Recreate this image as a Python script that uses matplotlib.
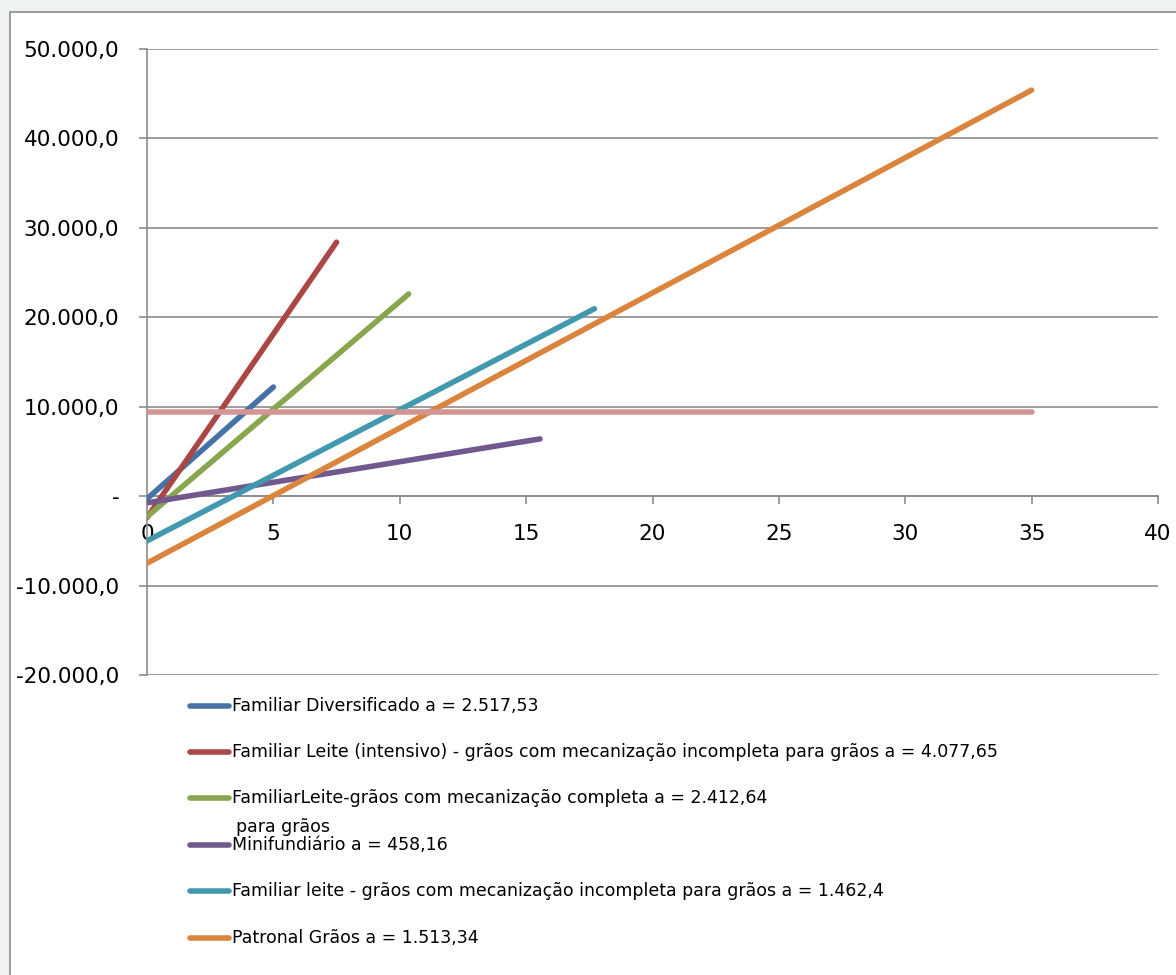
import matplotlib
matplotlib.use('Agg')
import matplotlib.pyplot as plt
from matplotlib.lines import Line2D
from matplotlib.patches import Rectangle
from matplotlib.ticker import FuncFormatter

# series: start/end of each straight line
labels = [
    'Familiar Diversificado a = 2.517,53',
    'Familiar Leite (intensivo) - grãos com mecanização incompleta para grãos a = 4.077,65',
    'FamiliarLeite-grãos com mecanização completa a = 2.412,64',
    'Minifundiário a = 458,16',
    'Familiar leite - grãos com mecanização incompleta para grãos a = 1.462,4',
    'Patronal Grãos a = 1.513,34',
]
x_start = [0, 0, 0, 0, 0, 0]
x_end = [5.0, 7.5, 10.35, 15.55, 17.7, 35.0]
y_start = [-300, -2400, -2300, -750, -5000, -7500]
y_end = [12200, 28400, 22600, 6400, 20950, 45400]
colors = ['#4572A7', '#AA4643', '#89A54E', '#71588F', '#4198AF', '#DB843D']

# horizontal reference line (not in legend)
ref_x = [0, 35]
ref_y = [9400, 9400]
ref_color = '#D39494'

y_ticks = [-20000, -10000, 0, 10000, 20000, 30000, 40000, 50000]
x_ticks = [0, 5, 10, 15, 20, 25, 30, 35, 40]


def br_fmt(v, pos=None):
    if v == 0:
        return '-'
    s = f'{abs(v):,.1f}'.replace(',', 'X').replace('.', ',').replace('X', '.')
    return ('-' if v < 0 else '') + s


W, H = 1176, 975
fig = plt.figure(figsize=(W / 100, H / 100), dpi=100)
fig.patch.set_facecolor('#EEF2F1')

# white chart area with gray border
fig.patches.append(Rectangle((10 / W, -0.01), 1.02, 1 - 12 / H + 0.01,
                             transform=fig.transFigure, facecolor='white',
                             edgecolor='#8C8C8C', linewidth=1.2, zorder=-10))

ax = fig.add_axes([147 / W, 1 - 675 / H, (1158 - 147) / W, (675 - 49) / H])
ax.set_facecolor('none')

for xs, xe, ys, ye, c in zip(x_start, x_end, y_start, y_end, colors):
    ax.plot([xs, xe], [ys, ye], color=c, lw=4, solid_capstyle='round', zorder=3)
ax.plot(ref_x, ref_y, color=ref_color, lw=4, solid_capstyle='round', zorder=4)

ax.set_xlim(0, 40)
ax.set_ylim(-20000, 50000)
ax.set_yticks(y_ticks)
ax.set_xticks(x_ticks)
ax.yaxis.set_major_formatter(FuncFormatter(br_fmt))
ax.grid(axis='y', color='#8C8C8C', lw=1.2, zorder=1)
ax.set_axisbelow(True)

for s in ['top', 'right']:
    ax.spines[s].set_visible(False)
ax.spines['left'].set_color('#8C8C8C')
ax.spines['left'].set_linewidth(1.2)
ax.spines['bottom'].set_position(('data', 0))
ax.spines['bottom'].set_color('#8C8C8C')
ax.spines['bottom'].set_linewidth(1.2)
ax.tick_params(axis='y', length=6, color='#8C8C8C', width=1.2, labelsize=15.5, pad=14)
ax.tick_params(axis='x', length=6, color='#8C8C8C', width=1.2, labelsize=15.5, pad=14)

# legend drawn by hand below the plot
leg_y = [706, 752, 798, 845, 891, 938]
lfont = ['Liberation Sans Narrow', 'DejaVu Sans']
for lab, c, yp in zip(labels, colors, leg_y):
    fy = 1 - yp / H
    fig.lines.append(Line2D([190 / W, 229 / W], [fy, fy], transform=fig.transFigure,
                            color=c, lw=4, solid_capstyle='round'))
    fig.text(232 / W, fy, lab, fontsize=12.5, family=lfont, va='center', ha='left')
fig.text(236 / W, 1 - 827 / H, 'para grãos', fontsize=12.5, family=lfont,
         va='center', ha='left')

fig.savefig('out.png', dpi=100, facecolor=fig.get_facecolor())
